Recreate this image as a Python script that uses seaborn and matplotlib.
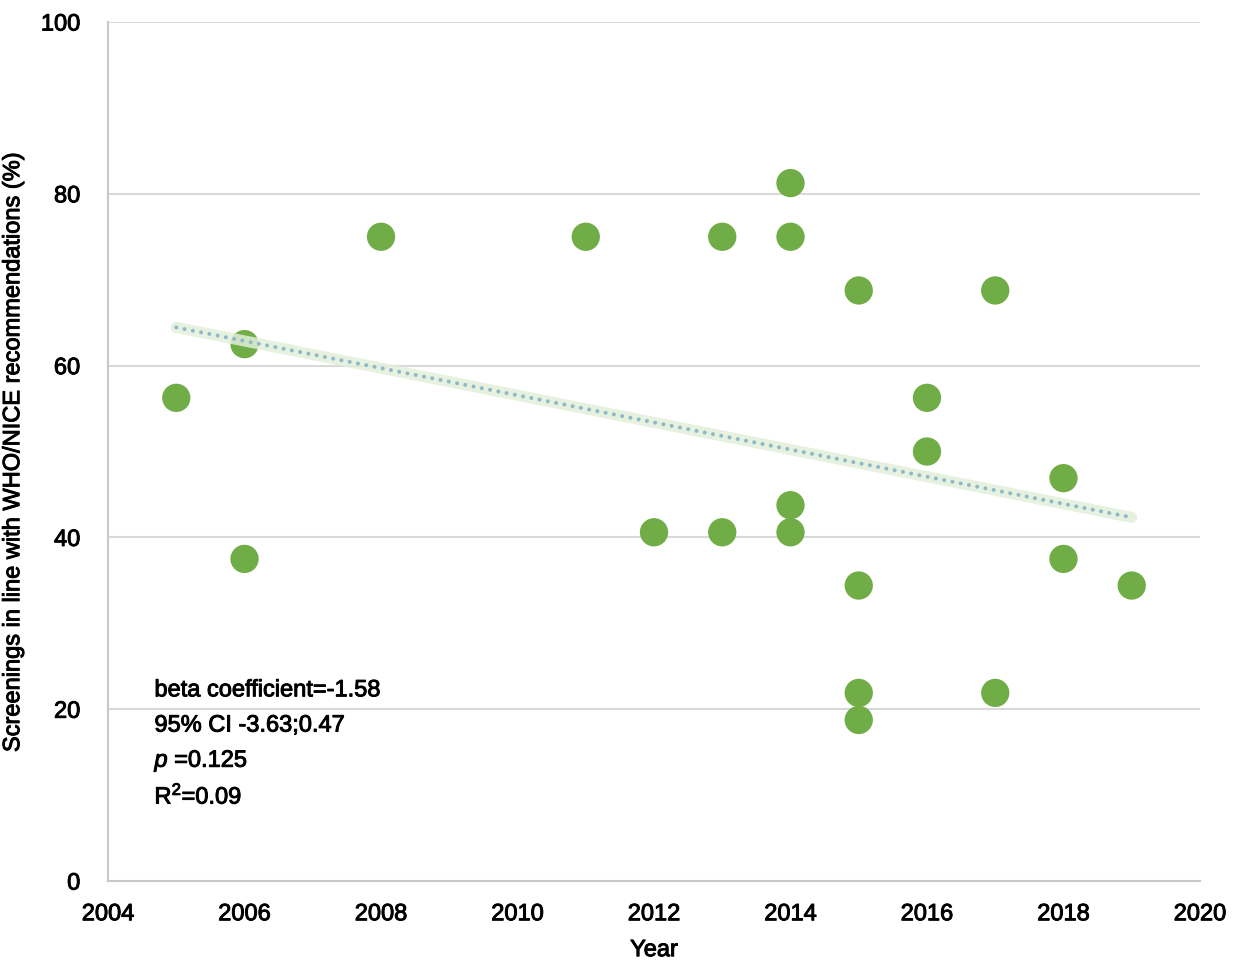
import numpy as np
import pandas as pd
import matplotlib
matplotlib.use("Agg")
import matplotlib.pyplot as plt
import matplotlib.patheffects as pe
import seaborn as sns

# Publication year of each screening programme and share of recommendations it follows
years = [2005, 2006, 2006, 2008, 2011, 2012, 2013, 2013, 2014, 2014, 2014, 2014,
         2015, 2015, 2015, 2015, 2016, 2016, 2017, 2017, 2018, 2018, 2019]
pct = [56.25, 62.5, 37.5, 75.0, 75.0, 40.6, 75.0, 40.6, 81.25, 75.0, 43.75, 40.6,
       68.75, 34.4, 21.9, 18.75, 56.25, 50.0, 68.75, 21.9, 46.9, 37.5, 34.4]

# Linear trend (beta per year) over the observed range
beta = -1.58
trend_start = 64.45
trend_years = [2005, 2019]

stats_lines = ["beta coefficient=-1.58", "95% CI -3.63;0.47",
               r"$\it{p}$ =0.125", "R$^2$=0.09"]

x_ticks = [2004, 2006, 2008, 2010, 2012, 2014, 2016, 2018, 2020]
y_ticks = [0, 20, 40, 60, 80, 100]

df = pd.DataFrame({"Year": years, "Pct": pct})
trend = pd.DataFrame({"Year": trend_years,
                      "Fit": [trend_start + beta * (y - trend_years[0]) for y in trend_years]})

sns.set_theme(style="white")
plt.rcParams["font.family"] = ["Liberation Sans", "DejaVu Sans"]
plt.rcParams["mathtext.fontset"] = "custom"
plt.rcParams["mathtext.rm"] = "Liberation Sans"
plt.rcParams["mathtext.it"] = "Liberation Sans:italic"
plt.rcParams["text.color"] = "black"
plt.rcParams["axes.labelcolor"] = "black"

# slightly heavier strokes on all text
heavy = [pe.withStroke(linewidth=0.7, foreground="black")]

fig = plt.figure(figsize=(12.39, 9.65), dpi=100)
ax = fig.add_axes([0.0872, 0.087, 0.8813, 0.8902])

for v in y_ticks[1:]:
    ax.axhline(v, color="#d9d9d9", lw=1.5, zorder=0)

sns.scatterplot(data=df, x="Year", y="Pct", ax=ax, s=415, color="#70ad47",
                edgecolor="none", linewidth=0, zorder=2)

# trendline: soft band with dotted centre
sns.lineplot(data=trend, x="Year", y="Fit", ax=ax, color="#e2efda", lw=8.0,
             solid_capstyle="round", alpha=0.85, zorder=3)
sns.lineplot(data=trend, x="Year", y="Fit", ax=ax, color="#8fb9c9", lw=2.9,
             dashes=False, zorder=4)
ax.lines[-1].set_linestyle((0, (0.01, 2.08)))
ax.lines[-1].set_dash_capstyle("round")

ax.set_xlim(2004, 2020)
ax.set_ylim(0, 100)
ax.set_xticks(x_ticks)
ax.set_yticks(y_ticks)
ax.tick_params(axis="both", length=0, labelsize=17, colors="black")
ax.tick_params(axis="x", pad=16)
ax.tick_params(axis="y", pad=20)
for lab in ax.get_xticklabels() + ax.get_yticklabels():
    lab.set_path_effects(heavy)

for s in ["top", "right"]:
    ax.spines[s].set_visible(False)
for s in ["left", "bottom"]:
    ax.spines[s].set_color("#c8c8c8")
    ax.spines[s].set_linewidth(1.5)

ax.set_xlabel("Year", fontsize=17, labelpad=10, path_effects=heavy)
ax.set_ylabel("Screenings in line with WHO/NICE recommendations (%)", fontsize=17,
              labelpad=12, path_effects=heavy)

for i, line in enumerate(stats_lines):
    ax.text(2004.68, 22.2 - i * 4.1, line, fontsize=17, va="center", ha="left",
            path_effects=heavy)

fig.savefig("out.png", dpi=100, facecolor="white")
